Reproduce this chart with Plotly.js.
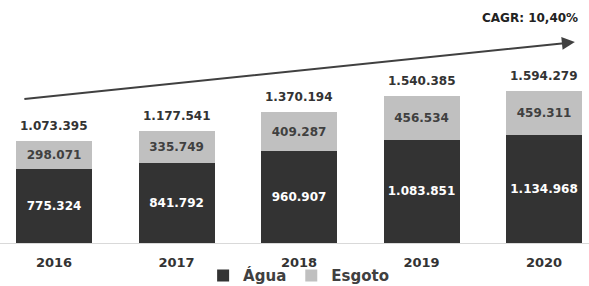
<!DOCTYPE html>
<html>
<head>
<meta charset="utf-8">
<script src="https://cdn.plot.ly/plotly-3.0.1.min.js"></script>
<style>html,body{margin:0;padding:0;background:#fff;}#chart{width:589px;height:286px;}</style>
</head>
<body>
<div id="chart"></div>
<script>
const years = ['2016', '2017', '2018', '2019', '2020'];
const agua = [775324, 841792, 960907, 1083851, 1134968];
const esgoto = [298071, 335749, 409287, 456534, 459311];
const totals = [1073395, 1177541, 1370194, 1540385, 1594279];
const cagrLabel = 'CAGR: 10,40%';

const FONT = 'DejaVu Sans';

function fmt(v) {
  return String(v).replace(/\B(?=(\d{3})+(?!\d))/g, '.');
}

const traces = [
  {
    type: 'bar', name: 'Água', x: years, y: agua,
    marker: {color: '#333333'},
    texttemplate: '<b>%{y:,.0f}</b>', textposition: 'inside', insidetextanchor: 'middle',
    textfont: {family: FONT, size: 12, color: '#ffffff'},
    hoverinfo: 'skip'
  },
  {
    type: 'bar', name: 'Esgoto', x: years, y: esgoto,
    marker: {color: '#c0c0c0'},
    texttemplate: '<b>%{y:,.0f}</b>', textposition: 'inside', insidetextanchor: 'middle',
    textfont: {family: FONT, size: 12, color: '#404040'},
    hoverinfo: 'skip'
  }
];

// category axis: annotation x given as category index
const annotations = years.map((yr, i) => ({
  xref: 'x', yref: 'y', x: i, y: totals[i],
  text: '<b>' + fmt(totals[i]) + '</b>', showarrow: false,
  xanchor: 'center', yanchor: 'middle', yshift: 15,
  font: {family: FONT, size: 12, color: '#333333'}
}));

annotations.push(
  {
    xref: 'paper', yref: 'paper', x: 0.976, y: 0.827,
    ax: -552, ay: 57, axref: 'pixel', ayref: 'pixel',
    showarrow: true, arrowhead: 2, arrowsize: 1.3, arrowwidth: 2, arrowcolor: '#404040',
    text: ''
  },
  {
    xref: 'paper', yref: 'paper', x: 0.9, y: 0.926, xanchor: 'center', yanchor: 'middle',
    text: '<b>' + cagrLabel + '</b>', showarrow: false,
    font: {family: FONT, size: 12, color: '#222222'}
  }
);

const layout = {
  width: 589, height: 286,
  margin: {l: 0, r: 0, t: 0, b: 43, autoexpand: false},
  paper_bgcolor: '#ffffff', plot_bgcolor: '#ffffff',
  separators: ',.',
  barmode: 'stack', bargap: 0.38,
  showlegend: true,
  legend: {
    orientation: 'h', x: 0.507, xanchor: 'center', y: -0.135, yanchor: 'middle',
    bgcolor: 'rgba(0,0,0,0)',
    font: {family: FONT, size: 15, color: '#404040', weight: 'bold'},
    traceorder: 'normal', itemwidth: 30
  },
  xaxis: {
    type: 'category', range: [-0.441, 4.367], automargin: false,
    showline: true, linecolor: '#d9d9d9', linewidth: 1,
    showgrid: false, zeroline: false, ticks: '', ticklabelstandoff: 7,
    tickfont: {family: FONT, size: 13, color: '#333333', weight: 'bold'},
    fixedrange: true
  },
  yaxis: {
    range: [0, 2550000], visible: false, showgrid: false, zeroline: false, fixedrange: true
  },
  annotations: annotations
};

Plotly.newPlot('chart', traces, layout, {displayModeBar: false, staticPlot: true});
</script>
</body>
</html>
